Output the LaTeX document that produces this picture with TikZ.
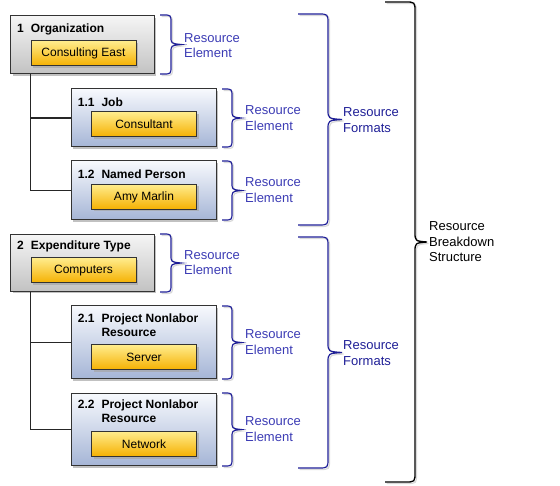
\documentclass[tikz,border=0pt]{standalone}
\usepackage{fontspec}
\setmainfont{Liberation Sans}
\usetikzlibrary{shadows}

\definecolor{grouptop}{HTML}{F5F5F5}
\definecolor{groupbot}{HTML}{C2C2C2}
\definecolor{itemtop}{HTML}{F7F9FD}
\definecolor{itembot}{HTML}{A5B5D6}
\definecolor{valtop}{HTML}{FFEC8C}
\definecolor{valbot}{HTML}{F5B000}
\definecolor{bracenavy}{HTML}{1E1E96}
\definecolor{elemblue}{HTML}{3B3BB4}

% brace: start x, spine x, tip x, top y, bottom y, corner
\newcommand{\bracepath}[6]{%
  (#1,#4) -- ({#2-#6},#4) .. controls (#2,#4) .. (#2,{#4+#6})
  -- (#2,{(#4+#5)/2-#6}) .. controls (#2,{(#4+#5)/2-1}) .. (#3,{(#4+#5)/2})
  .. controls (#2,{(#4+#5)/2+1}) .. (#2,{(#4+#5)/2+#6})
  -- (#2,{#5-#6}) .. controls (#2,#5) .. ({#2-#6},#5) -- (#1,#5)}

\tikzset{
  box/.style={draw=black!80, line width=1pt, minimum width=#1, inner sep=0pt,
    drop shadow={shadow xshift=2pt, shadow yshift=-2pt, fill=black!35, opacity=.7}},
  group/.style={box=143.5pt, top color=grouptop, bottom color=groupbot},
  item/.style={box=145pt, top color=itemtop, bottom color=itembot},
  value/.style={box=105pt, minimum height=25pt, top color=valtop, bottom color=valbot,
    font=\fontsize{12}{14}\selectfont},
  title/.style={anchor=west, inner sep=0pt, font=\bfseries\fontsize{12}{14}\selectfont},
  treeline/.style={draw=black!85, line width=1.2pt},
  braceshadow/.style={preaction={draw=black!15, line width=1.2pt,
    transform canvas={shift={(1.5pt,-1.5pt)}}}},
  elembrace/.style={braceshadow, draw=bracenavy, line width=1.2pt},
  elemlabel/.style={anchor=west, inner sep=0pt, align=left, text=elemblue,
    font=\fontsize{13}{15.5}\selectfont},
}

\begin{document}
\begin{tikzpicture}[x=1pt,y=-1pt]
\useasboundingbox (0,0) rectangle (560,486);

% boxes
\node[group, minimum height=58pt] (org) at (82.5,45) {};
\node[item, minimum height=58pt] (job) at (143.5,118) {};
\node[item, minimum height=59pt] (per) at (143.5,190.5) {};
\node[group, minimum height=57pt] (exp) at (82.5,263) {};
\node[item, minimum height=73pt] (srv) at (143.5,342.3) {};
\node[item, minimum height=72pt] (net) at (143.5,429.5) {};

\node[title] (orgt) at (17,29) {1\hspace{7pt}Organization};
\node[title] (jobt) at (77.7,102) {1.1\hspace{7pt}Job};
\node[title] (pert) at (77.7,174) {1.2\hspace{7pt}Named Person};
\node[title] (expt) at (17,246) {2\hspace{7pt}Expenditure Type};
\node[title] (srvt) at (77.7,326.3) {\begin{tabular}{@{}l@{\hspace{7pt}}l@{}}2.1&Project Nonlabor\\&Resource\end{tabular}};
\node[title] (nett) at (77.7,413) {\begin{tabular}{@{}l@{\hspace{7pt}}l@{}}2.2&Project Nonlabor\\&Resource\end{tabular}};

\node[value] (orgv) at (83.5,53.5) {Consulting East};
\node[value] (jobv) at (144,124.5) {Consultant};
\node[value] (perv) at (144,197) {Amy Marlin};
\node[value] (expv) at (83.5,270.5) {Computers};
\node[value] (srvv) at (144,357.5) {Server};
\node[value] (netv) at (144,444) {Network};

% tree
\path[treeline] ([xshift=20pt]org.south west) |- (job.west);
\path[treeline] ([xshift=20pt]org.south west) |- (per.west);
\path[treeline] ([xshift=20pt]exp.south west) |- (srv.west);
\path[treeline] ([xshift=20pt]exp.south west) |- (net.west);

% element braces
\path[elembrace] \bracepath{160}{171}{181}{15}{74}{8};
\path[elembrace] \bracepath{222}{232}{241}{89}{147}{8};
\path[elembrace] \bracepath{222}{232}{241}{161}{220}{8};
\path[elembrace] \bracepath{160}{171}{181}{234}{292}{8};
\path[elembrace] \bracepath{222}{232}{241}{306}{379}{8};
\path[elembrace] \bracepath{222}{232}{241}{393}{466}{8};

\node[elemlabel] (orgl) at (184,45.5) {Resource\\Element};
\node[elemlabel] (jobl) at (245,118) {Resource\\Element};
\node[elemlabel] (perl) at (245,190) {Resource\\Element};
\node[elemlabel] (expl) at (184,262.5) {Resource\\Element};
\node[elemlabel] (srvl) at (245,342) {Resource\\Element};
\node[elemlabel] (netl) at (245,429) {Resource\\Element};

% format braces
\path[elembrace] \bracepath{298}{328}{342}{14}{225}{10};
\path[elembrace] \bracepath{298}{328}{342}{237}{468}{10};
\node[elemlabel, text=bracenavy] (fmt1) at (343,120) {Resource\\Formats};
\node[elemlabel, text=bracenavy] (fmt2) at (343,353) {Resource\\Formats};

% structure brace
\path[braceshadow, draw=black, line width=1.3pt] \bracepath{385}{415}{427}{2}{482}{10};
\node[elemlabel, text=black] (rbs) at (429,241.7) {Resource\\Breakdown\\Structure};
\end{tikzpicture}
\end{document}
